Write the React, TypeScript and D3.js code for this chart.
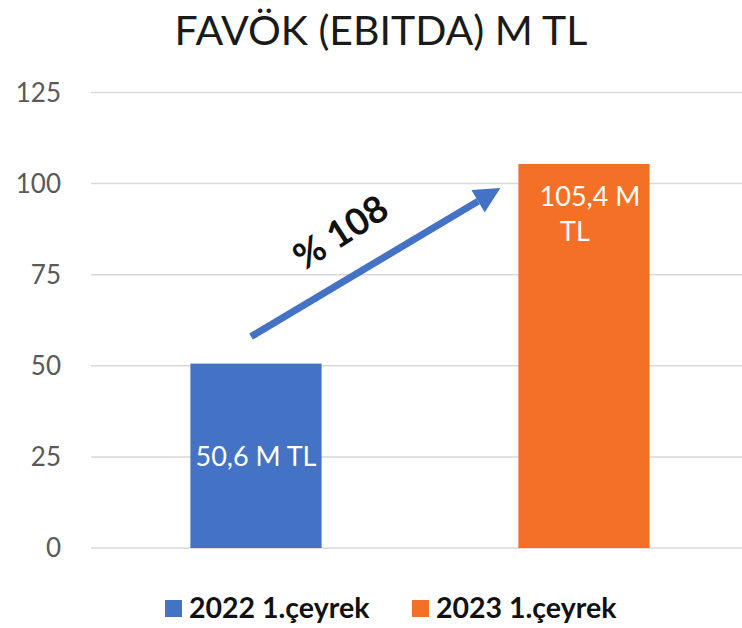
import React from "react";
import * as d3 from "d3";

// chart data
const categories = ["2022 1.çeyrek", "2023 1.çeyrek"];
const values = [50.6, 105.4];
const valueLabels = [["50,6 M TL"], ["105,4 M", "TL"]];
const colors = ["#4472C4", "#F47027"];
const yTicks = [0, 25, 50, 75, 100, 125];
const growthLabel = "% 108";

const width = 742;
const height = 628;
const font = "Lato, 'Open Sans', sans-serif";

const App = () => {
    // scales
    const x = d3.scaleBand<string>()
        .domain(categories)
        .range([92, 748])
        .paddingInner(0.6)
        .paddingOuter(0.3);
    const y = d3.scaleLinear().domain([0, 125]).range([548, 92.5]);
    const bw = x.bandwidth();

    // arrow from first bar to second bar
    const x0 = x(categories[0])! + bw / 2 - 5;
    const y0 = y(values[0]) - 27;
    const x1 = x(categories[1])! - 18;
    const y1 = y(values[1]) + 24;
    const angle = Math.atan2(y1 - y0, x1 - x0);
    const headLen = 26;
    const headW = 13;
    const bx = x1 - headLen * Math.cos(angle);
    const by = y1 - headLen * Math.sin(angle);
    const px = -Math.sin(angle);
    const py = Math.cos(angle);
    const head = [
        [x1, y1],
        [bx + px * headW, by + py * headW],
        [bx - px * headW, by - py * headW],
    ];
    const deg = (angle * 180) / Math.PI - 2;
    const mx = (x0 + x1) / 2 - 28;
    const my = (y0 + y1) / 2 - 19;

    return (
        <svg width={width} height={height} style={{ display: "block", position: "absolute", left: 0, top: 0 }}>
            <rect width={width} height={height} fill="#fff" />
            <text x={381} y={45} textAnchor="middle" fontFamily={font} fontSize={41} fill="#1a1a1a">
                FAVÖK (EBITDA) M TL
            </text>

            {/* grid and y axis */}
            {yTicks.map((t) => (
                <g key={t}>
                    <line x1={91} x2={748} y1={y(t)} y2={y(t)} stroke="#d9d9d9" strokeWidth={1.5} />
                    <text x={61} y={y(t) + 9} textAnchor="end" fontFamily={font} fontSize={26} fill="#595959">
                        {t}
                    </text>
                </g>
            ))}

            {/* bars */}
            {categories.map((c, i) => (
                <rect key={c} x={x(c)} y={y(values[i])} width={bw} height={y(0) - y(values[i])} fill={colors[i]} />
            ))}

            {/* value labels */}
            <text x={x(categories[0])! + bw / 2} y={y(values[0] / 2) + 10} textAnchor="middle"
                fontFamily={font} fontSize={27} fill="#fff">
                {valueLabels[0][0]}
            </text>
            <text x={x(categories[1])! + bw / 2 + 6} y={y(values[1]) + 42} textAnchor="middle"
                fontFamily={font} fontSize={27} fill="#fff">
                {valueLabels[1][0]}
            </text>
            <text x={x(categories[1])! + bw / 2 - 9} y={y(values[1]) + 77} textAnchor="middle"
                fontFamily={font} fontSize={27} fill="#fff">
                {valueLabels[1][1]}
            </text>

            {/* growth arrow */}
            <line x1={x0} y1={y0} x2={bx} y2={by} stroke={colors[0]} strokeWidth={7} />
            <polygon points={head.map((p) => p.join(",")).join(" ")} fill={colors[0]} />
            <text x={mx} y={my} textAnchor="middle" fontFamily={font} fontWeight="bold" fontSize={37}
                fill="#111" transform={`rotate(${deg} ${mx} ${my})`}>
                {growthLabel}
            </text>

            {/* legend */}
            {categories.map((c, i) => {
                const lx = [165, 412][i];
                return (
                    <g key={c}>
                        <rect x={lx} y={600} width={17} height={17} fill={colors[i]} />
                        <text x={lx + 24} y={618} fontFamily={font} fontWeight="bold" fontSize={28.5} fill="#111">
                            {c}
                        </text>
                    </g>
                );
            })}
        </svg>
    );
};

export default App;
